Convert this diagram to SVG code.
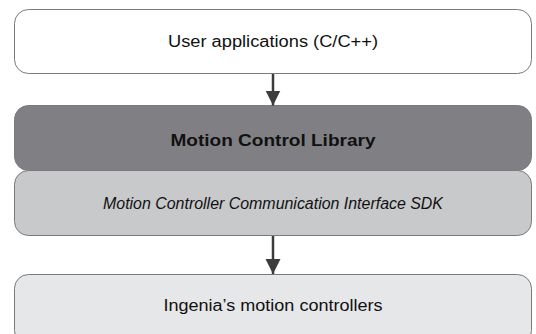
<svg xmlns="http://www.w3.org/2000/svg" width="536" height="334" viewBox="0 0 536 334">
  <defs>
    <style>
      .box { stroke: #7a7a7d; stroke-width: 1; }
      .lbl { font-family: "Liberation Sans", Arial, sans-serif; font-size: 16px; fill: #111; text-anchor: middle; }
      .conn { stroke: #3c3c3c; stroke-width: 2.5; fill: none; }
    </style>
    <marker id="head" viewBox="0 0 10 10" refX="10" refY="5" markerUnits="userSpaceOnUse" markerWidth="15" markerHeight="16" orient="auto">
      <path d="M0,0 L10,5 L0,10 Z" fill="#3c3c3c"/>
    </marker>
  </defs>

  <rect width="536" height="334" fill="#ffffff"/>

  <g id="user-apps">
    <rect class="box" x="14.5" y="9.5" width="517" height="64" rx="14" fill="#ffffff"/>
    <text class="lbl" x="273" y="47" textLength="210" lengthAdjust="spacingAndGlyphs">User applications (C/C++)</text>
  </g>

  <g id="mcl">
    <rect class="box" x="14.5" y="105.5" width="517" height="65" rx="14" fill="#808084"/>
    <text class="lbl" x="273" y="146" font-weight="bold" textLength="205" lengthAdjust="spacingAndGlyphs">Motion Control Library</text>
  </g>

  <g id="mcci-sdk">
    <rect class="box" x="14.5" y="170.5" width="517" height="65" rx="14" fill="#c8c9cb"/>
    <text class="lbl" x="273" y="209" font-style="italic" textLength="340" lengthAdjust="spacingAndGlyphs">Motion Controller Communication Interface SDK</text>
  </g>

  <g id="controllers">
    <rect class="box" x="14.5" y="274.5" width="517" height="70" rx="14" fill="#e6e7e8"/>
    <text class="lbl" x="273" y="311" textLength="219" lengthAdjust="spacingAndGlyphs">Ingenia’s motion controllers</text>
  </g>

  <g id="connectors">
    <line class="conn" x1="273" y1="74" x2="273" y2="105.5" marker-end="url(#head)"/>
    <line class="conn" x1="273" y1="236" x2="273" y2="274" marker-end="url(#head)"/>
  </g>
</svg>
